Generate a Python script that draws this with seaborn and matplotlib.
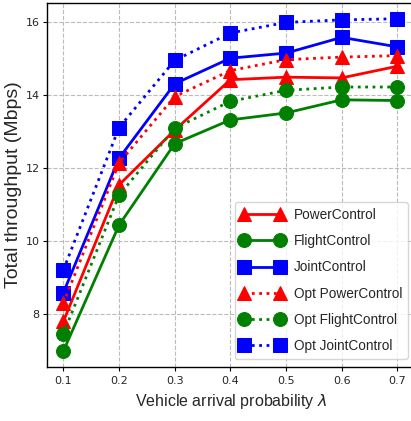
import numpy as np
import pandas as pd
import matplotlib
matplotlib.use("Agg")
import matplotlib.pyplot as plt
import seaborn as sns

arrival_prob = [0.1, 0.2, 0.3, 0.4, 0.5, 0.6, 0.7]

power_control = [7.81, 11.55, 13.05, 14.43, 14.50, 14.48, 14.80]
flight_control = [7.00, 10.45, 12.68, 13.33, 13.52, 13.88, 13.86]
joint_control = [8.60, 12.28, 14.32, 15.02, 15.16, 15.59, 15.33]
opt_power_control = [8.31, 12.15, 13.97, 14.68, 14.98, 15.05, 15.09]
opt_flight_control = [7.47, 11.27, 13.10, 13.84, 14.14, 14.23, 14.23]
opt_joint_control = [9.22, 13.12, 14.96, 15.71, 16.00, 16.07, 16.10]

series_names = ["PowerControl", "FlightControl", "JointControl",
                "Opt PowerControl", "Opt FlightControl", "Opt JointControl"]
series_values = [power_control, flight_control, joint_control,
                 opt_power_control, opt_flight_control, opt_joint_control]
colors = ["red", "green", "blue", "red", "green", "blue"]
markers = ["^", "o", "s", "^", "o", "s"]
linestyles = ["-", "-", "-", ":", ":", ":"]

sns.set_style("whitegrid", {
    "grid.linestyle": "--",
    "grid.color": "#bbbbbb",
    "axes.edgecolor": "black",
    "xtick.bottom": True,
    "ytick.left": True,
})
plt.rcParams["font.family"] = ["Liberation Sans", "DejaVu Sans"]

fig = plt.figure(figsize=(4.11, 4.21), dpi=100)
ax = fig.add_axes([0.1136, 0.129, 0.898, 0.8646])

for name, vals, c, m, ls in zip(series_names, series_values, colors, markers, linestyles):
    df = pd.DataFrame({"x": arrival_prob, "y": vals})
    sns.lineplot(data=df, x="x", y="y", ax=ax, color=c, marker=m,
                 linestyle=ls, linewidth=2, markersize=10,
                 markeredgecolor=c, label=name)

ax.set_xlim(0.07, 0.733)
ax.set_ylim(6.57, 16.54)
ax.set_xticks(arrival_prob)
ax.set_yticks([8, 10, 12, 14, 16])
ax.tick_params(axis="both", labelsize=8, length=3, width=0.8,
               color="black")
ax.tick_params(axis="x", pad=4)
ax.tick_params(axis="y", pad=2)
for lab in ax.get_xticklabels() + ax.get_yticklabels():
    lab.set_family("DejaVu Sans")
for sp in ax.spines.values():
    sp.set_linewidth(1.0)

ax.set_xlabel("Vehicle arrival probability $\\lambda$", fontsize=11.5, labelpad=4)
ax.set_ylabel("Total throughput (Mbps)", fontsize=14)
ax.yaxis.set_label_coords(-0.067, 0.5)

ax.legend(loc="lower right", numpoints=2, fontsize=9.8, frameon=True,
          borderaxespad=0.6, handlelength=3.25, labelspacing=0.9,
          handletextpad=0.7)

fig.savefig("out.png", dpi=100)
